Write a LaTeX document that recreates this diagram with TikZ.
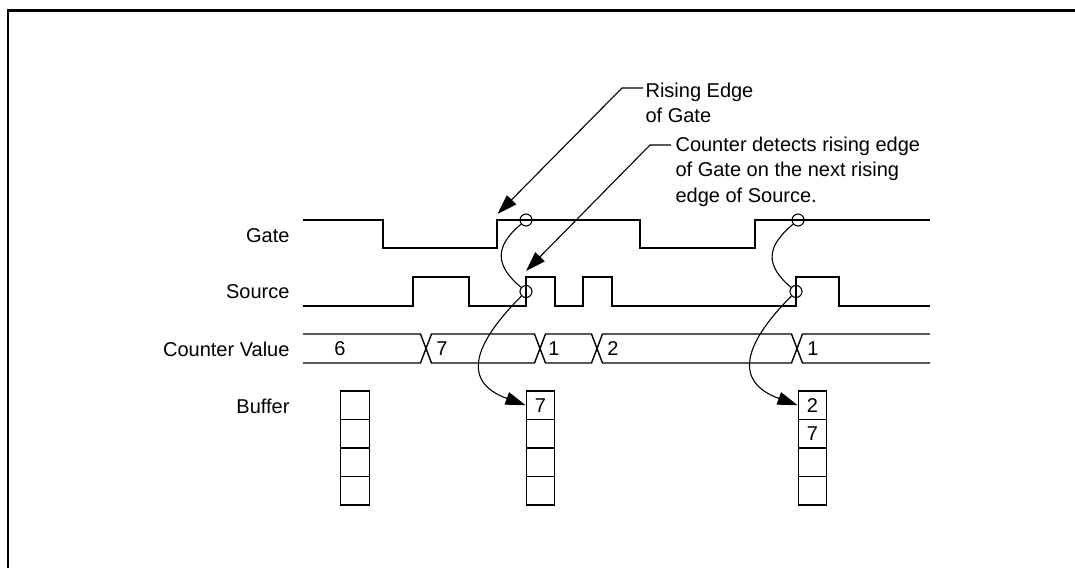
\documentclass[tikz,border=0pt]{standalone}
\usepackage{fontspec}
\setmainfont{Liberation Sans}
\usetikzlibrary{arrows.meta}

\begin{document}
\begin{tikzpicture}[x=1pt, y=-1pt, >={Triangle[length=20pt, width=13pt]},
    font=\fontsize{20}{25.5}\selectfont, line width=1.1pt,
    sig/.style={line width=1.4pt},
    lbl/.style={anchor=east, inner sep=0pt},
    note/.style={anchor=west, align=left, inner sep=0pt},
    cell/.style={draw, line width=1.3pt, minimum size=28.5pt, inner sep=0pt},
    ring/.style={draw, circle, minimum size=12pt, inner sep=0pt}]
    \useasboundingbox (0,0) rectangle (1075,568);
    \draw[line width=2.8pt] (8,568) -- (8,10.5) -- (1075,10.5);

    % signal names
    \node[lbl] (gate) at (290,236) {Gate};
    \node[lbl] (src)  at (290,292) {Source};
    \node[lbl] (cnt)  at (290,349) {Counter Value};
    \node[lbl] (buf)  at (290,406) {Buffer};

    % waveforms
    \draw[sig] (303,220) -| (383,248) -| (497,220) -| (640,248) -| (755,220) -- (930,220);
    \draw[sig] (303,306) -| (413,277) -| (469,306) -| (526,277) -| (555,306) -| (583,277)
               -| (612,306) -| (796,277) -| (839,306) -- (930,306);

    % counter bus
    \draw[sig] (303,334) -- (420.5,334) -- (426,348.5) -- (420.5,363) -- (303,363);
    \foreach \a/\b in {426/540, 540/597, 597/797}
      \draw[sig] (\a,348.5) -- (\a+5.5,334) -- (\b-5.5,334) -- (\b,348.5) -- (\b-5.5,363) -- (\a+5.5,363) -- cycle;
    \draw[sig] (930,334) -- (802.5,334) -- (797,348.5) -- (802.5,363) -- (930,363);
    \foreach \n/\x/\t in {v6/340/6, v7/442/7, v1/554/1, v2/613/2, v1b/813/1}
      \node (\n) at (\x,349) {\t};

    % buffers
    \foreach \b/\x in {1/355, 2/540.5, 3/812.5}
      \foreach \r in {1,...,4}
        \node[cell] (b\b-\r) at (\x,376.75+28.5*\r) {};
    \node (n7)  at (b2-1) {7};
    \node (n2)  at (b3-1) {2};
    \node (n7b) at (b3-2) {7};

    % sampling points
    \node[ring] (g1) at (526,220) {};
    \node[ring] (s1) at (526,291.5) {};
    \node[ring] (g2) at (798,220) {};
    \node[ring] (s2) at (796,291.5) {};
    \draw (g1) to[out=220, in=140, looseness=1.4] (s1);
    \draw (g2) to[out=220, in=140, looseness=1.4] (s2);
    \draw[->] (s1) to[out=225, in=160, looseness=1.6] (b2-1.west);
    \draw[->] (s2) to[out=225, in=160, looseness=1.6] (b3-1.west);

    % notes
    \node[note] (rise) at (645,103) {Rising Edge\\of Gate};
    \node[note] (det)  at (675,171.5) {Counter detects rising edge\\of Gate on the next rising\\edge of Source.};
    \coordinate (gtip) at (497.5,214);
    \coordinate (stip) at (526,271);
    \draw[->] ([xshift=-2pt, yshift=15pt]rise.west) -- ++(-21,0) -- (gtip);
    \draw[->] ([xshift=-4pt, yshift=26.5pt]det.west) -- ++(-21,0) -- (stip);
\end{tikzpicture}
\end{document}
